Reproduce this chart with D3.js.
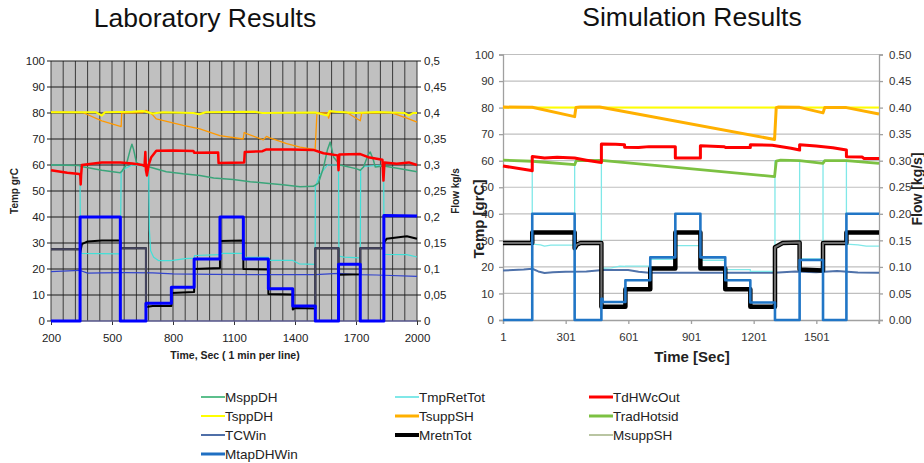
<!DOCTYPE html>
<html>
<head>
<meta charset="utf-8">
<script src="https://cdn.jsdelivr.net/npm/d3@7"></script>
<style>
  body { margin: 0; background: #fff; }
  svg { display: block; font-family: "Liberation Sans", Arial, sans-serif; }
</style>
</head>
<body>
<div id="chart"></div>
<script>
// ---- Laboratory data (time in sec, temps in grC, flows in kg/s)
var labTap = [[200,0],[343,0],[343,0.2],[541,0.2],[541,0],[667,0],[667,0.034],[792,0.034],[792,0.065],[904,0.065],[904,0.119],[1031,0.119],[1031,0.2],[1146,0.2],[1146,0.119],[1269,0.119],[1269,0.062],[1389,0.062],[1389,0.029],[1500,0.029],[1500,0],[1614,0],[1614,0.109],[1721,0.109],[1721,0],[1837,0],[1837,0.203],[2000,0.202]];
var labRetn = [[200,0.138],[343,0.138],[343,0.13],[352,0.148],[380,0.153],[450,0.155],[541,0.155],[541,0.14],[667,0.14],[667,0.027],[700,0.029],[792,0.029],[792,0.054],[904,0.056],[904,0.1],[1031,0.102],[1031,0.154],[1146,0.155],[1146,0.1],[1269,0.099],[1269,0.052],[1389,0.051],[1389,0.022],[1400,0.025],[1500,0.024],[1500,0.14],[1614,0.14],[1614,0.089],[1721,0.09],[1721,0.14],[1837,0.14],[1837,0.15],[1850,0.158],[1950,0.163],[2000,0.158]];
var labSupp = [[200,0.138],[343,0.138],null,[541,0.155],[541,0.14],[667,0.14],[667,0.027],null,[1500,0.024],[1500,0.14],[1614,0.14],[1614,0.089],null,[1721,0.09],[1721,0.14],[1837,0.14]];
var labSppDH = [[200,0.3],[340,0.299],[350,0.297],[450,0.29],[540,0.285],[548,0.288],[570,0.3],[590,0.33],[598,0.34],[606,0.33],[620,0.305],[640,0.3],[667,0.298],[767,0.287],[850,0.283],[932,0.28],[1000,0.275],[1096,0.272],[1180,0.268],[1260,0.265],[1340,0.262],[1425,0.258],[1490,0.259],[1515,0.265],[1540,0.295],[1560,0.33],[1573,0.344],[1590,0.315],[1622,0.3],[1700,0.293],[1721,0.29],[1737,0.296],[1760,0.32],[1770,0.325],[1785,0.31],[1795,0.296],[1836,0.298],[1918,0.293],[2000,0.287]];
var labRetTot = [[200,60],[343,59.8],[343,52],[345,26],[541,25.8],[545,57],[560,58.5],[600,60],[667,59.5],[680,58],[684,35],[690,27],[705,24.5],[730,23.2],[790,23.2],[860,24],[904,24.2],[906,25.2],[1031,25.5],[1040,26],[1146,26],[1148,24.5],[1269,24.5],[1271,23.3],[1389,23.3],[1420,22],[1499,21.8],[1500,51.6],[1520,56],[1560,60],[1614,60],[1616,25],[1640,24.6],[1721,24.3],[1723,58],[1740,59.5],[1836,60],[1838,25.6],[1950,25.5],[2000,24.6]];
var labDHW = [[200,58],[280,57],[340,56.5],[344,56],[346,52.5],[348,56],[352,60],[400,60.5],[450,61],[541,61],[600,60.6],[650,60],[660,59.6],[664,65],[667,58],[672,56],[680,60],[693,63],[718,65.5],[800,65.6],[900,65.4],[905,64.7],[1022,64.8],[1024,60.8],[1150,61],[1153,65],[1240,65.3],[1260,66],[1380,66],[1490,65.8],[1540,64.5],[1610,63.7],[1614,58],[1618,64],[1721,64.2],[1760,63],[1830,62],[1835,54],[1840,61],[1900,60.5],[1960,61],[2000,60]];
var labSppTemp = [[200,80.3],[420,80.3],[450,79],[465,80.3],[600,80.5],[650,80.8],[700,79.8],[750,80.3],[900,80],[930,79.5],[960,80.3],[1200,80.5],[1240,80],[1500,80.2],[1560,79],[1570,80.8],[1600,80.5],[1700,80],[1800,80.4],[1940,80],[1960,79],[1980,80],[2000,80]];
var labSuppSH = [[200,80.3],[356,80.2],[450,77],[545,74.8],[548,80],[652,80.2],[668,81],[700,79.3],[718,77.7],[850,75.2],[932,73.9],[1030,71.3],[1145,70],[1150,72.5],[1165,72],[1244,69.7],[1260,71],[1280,70.3],[1359,68.2],[1425,66.9],[1499,65.9],[1508,80],[1560,80],[1565,78],[1575,80.5],[1655,80.2],[1721,77],[1728,80],[1869,80.2],[1950,78],[2000,76.5]];
var labCWin = [[200,19],[340,19.5],[380,18.4],[450,18.5],[560,18.6],[700,18.5],[800,18.1],[1000,17.9],[1200,17.8],[1500,17.8],[1614,18.3],[1700,17.8],[1800,17.7],[2000,17.2]];
var labZero = [[200,0],[2000,0]];

// ---- Simulation data
var simTap = [[1,0],[141,0],[141,0.2],[344,0.2],[344,0],[472,0],[472,0.04],[478,0.04],[478,0.034],[587,0.034],[587,0.075],[706,0.075],[706,0.118],[826,0.118],[826,0.2],[946,0.2],[946,0.118],[1065,0.118],[1065,0.075],[1185,0.075],[1185,0.033],[1303,0.033],[1303,0],[1421,0],[1421,0.113],[1533,0.113],[1533,0],[1645,0],[1645,0.2],[1801,0.2]];
var simRetn = [[1,0.145],[141,0.145],[141,0.165],[344,0.165],[344,0.135],[355,0.142],[372,0.145],[472,0.145],[472,0.025],[587,0.025],[587,0.058],[706,0.058],[706,0.097],[826,0.097],[826,0.165],[946,0.165],[946,0.097],[1065,0.097],[1065,0.058],[1185,0.058],[1185,0.025],[1303,0.025],[1303,0.137],[1340,0.145],[1421,0.146],[1421,0.095],[1533,0.093],[1533,0.145],[1645,0.145],[1645,0.165],[1801,0.165]];
var simSupp = [[1,0.145],[141,0.145],null,[344,0.135],[355,0.142],[372,0.145],[472,0.145],[472,0.025],null,[1303,0.025],[1303,0.137],[1340,0.145],[1421,0.146],[1421,0.095],null,[1533,0.093],[1533,0.145],[1645,0.145]];
var simRetTot = [[1,60],[141,60],[141,28.6],[180,28.3],[200,27.8],[230,28.2],[344,28.2],[344,60],[472,60],[472,19.5],[520,19.6],[560,20.3],[587,20.2],[587,20.3],[706,20.3],[706,22.8],[826,22.8],[826,28],[946,28],[946,22.5],[1065,22.5],[1065,19],[1185,19],[1185,18.3],[1303,18.3],[1303,60],[1421,60],[1421,23],[1533,23],[1533,60],[1645,60],[1645,28.6],[1700,28.3],[1740,27.8],[1801,27.8]];
var simDHW = [[1,58],[137,56.3],[141,56.2],[141,61.6],[200,61],[260,61.3],[344,61],[400,60.2],[472,59.3],[472,66.3],[540,66.2],[583,66],[583,65.1],[650,65],[700,65.3],[826,65.3],[826,61],[946,61],[946,65.6],[1060,65.3],[1065,65],[1185,65],[1185,66],[1290,65.8],[1380,64.7],[1421,64],[1421,66],[1500,65.5],[1580,64.9],[1645,64],[1645,61.5],[1720,61.4],[1730,60.8],[1801,60.8]];
var simSuppSH = [[1,80.2],[141,80.1],[344,76.6],[350,80],[370,80.2],[464,80.2],[1301,68],[1309,80],[1320,80.2],[1421,80.1],[1533,78],[1541,80],[1645,80],[1801,77.6]];
var simRad = [[1,60.2],[141,59.8],[344,58.5],[352,60],[472,60.1],[1301,54],[1309,59.8],[1330,60.2],[1421,60],[1533,59],[1541,60],[1645,60],[1801,59]];
var simSppTemp = [[1,80],[1801,80]];
var simCWin = [[1,18.6],[100,19],[141,19.3],[170,18.3],[200,17.7],[240,18],[300,18.2],[400,18.3],[480,18.8],[600,18.8],[650,18.2],[700,17.8],[1000,17.8],[1300,17.8],[1400,18.3],[1500,18],[1600,18.5],[1700,17.9],[1801,17.8]];

// ---- Axis ticks
var tempTicks = [0,10,20,30,40,50,60,70,80,90,100];
var flowTicks = [0,0.05,0.1,0.15,0.2,0.25,0.3,0.35,0.4,0.45,0.5];
var labTimeTicks = [200,500,800,1100,1400,1700,2000];
var simTimeTicks = [1,301,601,901,1201,1501];

// ---- Legend
var legendNames = ["MsppDH","TmpRetTot","TdHWcOut","TsppDH","TsuppSH","TradHotsid","TCWin","MretnTot","MsuppSH","MtapDHWin"];
var legendColors = ["#5cbf8c","#80e8e8","#ff0000","#ffff00","#ffb000","#7cc142","#4f6fa8","#000000","#a2b283","#1f6fc2"];
var legendWidths = [2,2,3,2,3,3,2,4,1.5,3];

var W = 924, H = 463;
var svg = d3.select("#chart").append("svg").attr("width", W).attr("height", H);

function drawSeries(g, data, x, y, color, width) {
  var line = d3.line()
    .defined(function(d) { return d != null; })
    .x(function(d) { return x(d[0]); })
    .y(function(d) { return y(d[1]); });
  g.append("path")
    .datum(data)
    .attr("d", line)
    .attr("fill", "none")
    .attr("stroke", color)
    .attr("stroke-width", width)
    .attr("stroke-linejoin", "round");
}

// Laboratory chart
function drawLab() {
  var x = d3.scaleLinear().domain([200, 2000]).range([51, 417]);
  var yT = d3.scaleLinear().domain([0, 100]).range([321, 61]);
  var yF = d3.scaleLinear().domain([0, 0.5]).range([321, 61]);
  var g = svg.append("g");

  g.append("rect").attr("x", 51).attr("y", 61).attr("width", 366).attr("height", 260).attr("fill", "#c0c0c0");

  // vertical grid, one line per minute
  g.selectAll(".vg").data(d3.range(200, 2001, 60)).enter().append("line")
    .attr("x1", function(d) { return x(d); }).attr("x2", function(d) { return x(d); })
    .attr("y1", 61).attr("y2", 321)
    .attr("stroke", "#3a3a3a").attr("stroke-width", 1);
  g.selectAll(".hg").data(tempTicks).enter().append("line")
    .attr("x1", 47).attr("x2", 421)
    .attr("y1", function(d) { return yT(d); }).attr("y2", function(d) { return yT(d); })
    .attr("stroke", "#1a1a1a").attr("stroke-width", 1);

  var left = g.append("g").attr("transform", "translate(51,0)")
    .call(d3.axisLeft(yT).tickValues(tempTicks).tickSize(0).tickPadding(6));
  var right = g.append("g").attr("transform", "translate(417,0)")
    .call(d3.axisRight(yF).tickValues(flowTicks).tickSize(0).tickPadding(7)
      .tickFormat(function(d) { return String(d).replace(".", ","); }));
  var bottom = g.append("g").attr("transform", "translate(0,321)")
    .call(d3.axisBottom(x).tickValues(labTimeTicks).tickSize(4).tickPadding(9).tickFormat(d3.format("d")));
  [left, right, bottom].forEach(function(a) {
    a.select(".domain").remove();
    a.selectAll("text").attr("font-size", 11.5).attr("fill", "#222").attr("font-family", "Liberation Sans, Arial");
    a.selectAll("line").attr("stroke", "#333");
  });

  drawSeries(g, labZero, x, yT, "#7070c0", 1.2);
  drawSeries(g, labCWin, x, yT, "#3344cc", 1.2);
  drawSeries(g, labRetTot, x, yT, "#40e0d8", 1.2);
  drawSeries(g, labSppDH, x, yF, "#3ba57a", 1.5);
  drawSeries(g, labSuppSH, x, yT, "#ff9900", 1.3);
  drawSeries(g, labSppTemp, x, yT, "#ffff00", 2);
  drawSeries(g, labDHW, x, yT, "#ff0000", 2.5);
  drawSeries(g, labRetn, x, yF, "#000000", 2);
  drawSeries(g, labSupp, x, yF, "#44445e", 2);
  drawSeries(g, labTap, x, yF, "#0000ff", 3);

  g.append("text").text("Temp grC")
    .attr("transform", "translate(18,191) rotate(-90)")
    .attr("text-anchor", "middle").attr("font-size", 10).attr("font-weight", "bold").attr("fill", "#222");
  g.append("text").text("Flow kg/s")
    .attr("transform", "translate(459,191) rotate(-90)")
    .attr("text-anchor", "middle").attr("font-size", 10).attr("font-weight", "bold").attr("fill", "#222");
  g.append("text").text("Time, Sec ( 1 min per line)")
    .attr("x", 235).attr("y", 359)
    .attr("text-anchor", "middle").attr("font-size", 10.5).attr("font-weight", "bold").attr("fill", "#222");
  g.append("text").text("Laboratory Results")
    .attr("x", 205).attr("y", 27)
    .attr("text-anchor", "middle").attr("font-size", 26.5).attr("fill", "#111");
}

// Simulation chart
function drawSim() {
  var x = d3.scaleLinear().domain([1, 1801]).range([503, 879]);
  var yT = d3.scaleLinear().domain([0, 100]).range([320, 54.5]);
  var yF = d3.scaleLinear().domain([0, 0.5]).range([320, 54.5]);
  var g = svg.append("g");

  g.selectAll(".hg").data(tempTicks.slice(1)).enter().append("line")
    .attr("x1", 503).attr("x2", 879)
    .attr("y1", function(d) { return yT(d); }).attr("y2", function(d) { return yT(d); })
    .attr("stroke", "#bfbfbf").attr("stroke-width", 1.2);

  var left = g.append("g").attr("transform", "translate(503,0)")
    .call(d3.axisLeft(yT).tickValues(tempTicks).tickSize(4).tickPadding(5));
  var right = g.append("g").attr("transform", "translate(879,0)")
    .call(d3.axisRight(yF).tickValues(flowTicks).tickSize(4).tickPadding(6).tickFormat(d3.format(".2f")));
  var bottom = g.append("g").attr("transform", "translate(0,320)")
    .call(d3.axisBottom(x).tickValues(simTimeTicks).tickSize(4).tickPadding(9).tickFormat(d3.format("d")));
  bottom.append("line").attr("x1", x(1801)).attr("x2", x(1801)).attr("y1", 0).attr("y2", 4);
  [left, right, bottom].forEach(function(a) {
    a.selectAll(".domain").attr("stroke", "#a0a0a0").attr("stroke-width", 1.3);
    a.selectAll("text").attr("font-size", 11.5).attr("fill", "#333").attr("font-family", "Liberation Sans, Arial");
    a.selectAll("line").attr("stroke", "#a0a0a0").attr("stroke-width", 1.3);
  });

  drawSeries(g, simCWin, x, yT, "#4f72aa", 2);
  drawSeries(g, simRetTot, x, yT, "#80e8e8", 1.3);
  drawSeries(g, simRetn, x, yF, "#000000", 4.5);
  drawSeries(g, simSupp, x, yF, "#6e6e6e", 2);
  drawSeries(g, simTap, x, yF, "#2176c6", 2.6);
  drawSeries(g, simRad, x, yT, "#7cc142", 2.8);
  drawSeries(g, simSppTemp, x, yT, "#ffff00", 2);
  drawSeries(g, simSuppSH, x, yT, "#ffb000", 3);
  drawSeries(g, simDHW, x, yT, "#ff0000", 3);

  g.append("text").text("Temp [grC]")
    .attr("transform", "translate(484,219) rotate(-90)")
    .attr("text-anchor", "middle").attr("font-size", 15).attr("font-weight", "bold").attr("fill", "#222");
  g.append("text").text("Flow [kg/s]")
    .attr("transform", "translate(922,189) rotate(-90)")
    .attr("text-anchor", "middle").attr("font-size", 14).attr("font-weight", "bold").attr("fill", "#222");
  g.append("text").text("Time [Sec]")
    .attr("x", 692).attr("y", 362)
    .attr("text-anchor", "middle").attr("font-size", 15).attr("font-weight", "bold").attr("fill", "#222");
  g.append("text").text("Simulation Results")
    .attr("x", 692).attr("y", 26)
    .attr("text-anchor", "middle").attr("font-size", 26.5).attr("fill", "#111");
}

function drawLegend() {
  var colX = [201, 395, 589];
  var rowY = [397, 416, 435, 454];
  var items = svg.append("g").selectAll("g").data(legendNames).enter().append("g")
    .attr("transform", function(d, i) {
      return "translate(" + colX[i % 3] + "," + rowY[Math.floor(i / 3)] + ")";
    });
  items.append("line")
    .attr("x1", 0).attr("x2", 24).attr("y1", 0).attr("y2", 0)
    .attr("stroke", function(d, i) { return legendColors[i]; })
    .attr("stroke-width", function(d, i) { return legendWidths[i]; });
  items.append("text").text(function(d) { return d; })
    .attr("x", 24).attr("y", 5)
    .attr("font-size", 13.5).attr("fill", "#222");
}

drawLab();
drawSim();
drawLegend();
</script>
</body>
</html>
